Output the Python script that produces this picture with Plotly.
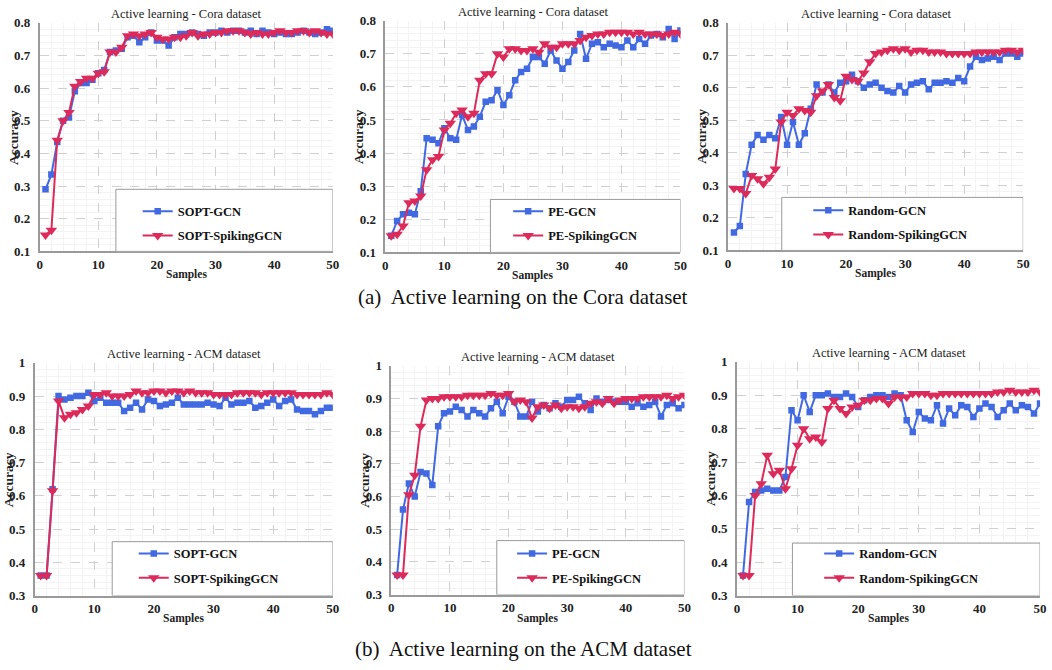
import plotly.graph_objects as go

samples = list(range(1, 51))

# ---- Cora dataset ----
sopt_gcn_cora = [0.29, 0.335, 0.435, 0.50, 0.51, 0.59, 0.615, 0.615, 0.625, 0.645,
                 0.655, 0.71, 0.715, 0.72, 0.755, 0.76, 0.74, 0.755, 0.77, 0.745,
                 0.745, 0.73, 0.755, 0.765, 0.765, 0.77, 0.765, 0.76, 0.77, 0.77,
                 0.775, 0.77, 0.775, 0.775, 0.77, 0.775, 0.765, 0.775, 0.77, 0.765,
                 0.77, 0.765, 0.765, 0.77, 0.775, 0.77, 0.765, 0.77, 0.78, 0.775]
sopt_spk_cora = [0.15, 0.165, 0.44, 0.50, 0.525, 0.605, 0.62, 0.63, 0.63, 0.645,
                 0.65, 0.71, 0.71, 0.725, 0.76, 0.765, 0.76, 0.765, 0.77, 0.755,
                 0.75, 0.75, 0.755, 0.755, 0.76, 0.77, 0.76, 0.765, 0.765, 0.77,
                 0.77, 0.775, 0.775, 0.775, 0.77, 0.765, 0.77, 0.765, 0.765, 0.77,
                 0.775, 0.77, 0.77, 0.775, 0.775, 0.77, 0.775, 0.77, 0.765, 0.765]
pe_gcn_cora = [0.15, 0.195, 0.215, 0.22, 0.215, 0.285, 0.445, 0.44, 0.43, 0.475,
               0.445, 0.44, 0.515, 0.47, 0.48, 0.51, 0.555, 0.56, 0.59, 0.545,
               0.575, 0.62, 0.645, 0.655, 0.69, 0.69, 0.67, 0.71, 0.68, 0.655,
               0.675, 0.71, 0.76, 0.685, 0.73, 0.735, 0.72, 0.73, 0.725, 0.72,
               0.74, 0.72, 0.745, 0.73, 0.755, 0.76, 0.75, 0.775, 0.745, 0.77]
pe_spk_cora = [0.15, 0.155, 0.18, 0.25, 0.255, 0.27, 0.35, 0.38, 0.39, 0.47,
               0.49, 0.52, 0.53, 0.51, 0.52, 0.62, 0.64, 0.64, 0.70, 0.69,
               0.715, 0.715, 0.71, 0.71, 0.715, 0.705, 0.73, 0.72, 0.72, 0.73,
               0.73, 0.73, 0.74, 0.75, 0.755, 0.76, 0.76, 0.765, 0.765, 0.765,
               0.765, 0.76, 0.765, 0.76, 0.76, 0.76, 0.755, 0.76, 0.765, 0.76]
rnd_gcn_cora = [0.155, 0.175, 0.335, 0.425, 0.455, 0.44, 0.455, 0.445, 0.51, 0.425,
                0.495, 0.425, 0.46, 0.535, 0.61, 0.585, 0.61, 0.585, 0.615, 0.62,
                0.64, 0.62, 0.60, 0.61, 0.615, 0.60, 0.59, 0.585, 0.605, 0.585,
                0.61, 0.615, 0.62, 0.595, 0.615, 0.615, 0.62, 0.615, 0.63, 0.62,
                0.665, 0.695, 0.685, 0.69, 0.695, 0.685, 0.705, 0.705, 0.695, 0.705]
rnd_spk_cora = [0.29, 0.29, 0.275, 0.33, 0.32, 0.305, 0.325, 0.35, 0.495, 0.525,
                0.515, 0.535, 0.53, 0.525, 0.575, 0.59, 0.61, 0.57, 0.56, 0.635,
                0.625, 0.62, 0.645, 0.68, 0.705, 0.71, 0.715, 0.72, 0.715, 0.72,
                0.71, 0.715, 0.715, 0.71, 0.71, 0.71, 0.705, 0.705, 0.705, 0.705,
                0.705, 0.71, 0.71, 0.71, 0.71, 0.71, 0.715, 0.715, 0.71, 0.715]

# ---- ACM dataset ----
sopt_gcn_acm = [0.36, 0.36, 0.62, 0.90, 0.89, 0.895, 0.90, 0.90, 0.91, 0.885,
                0.895, 0.88, 0.88, 0.88, 0.855, 0.865, 0.88, 0.86, 0.89, 0.885,
                0.87, 0.875, 0.88, 0.895, 0.875, 0.875, 0.875, 0.875, 0.88, 0.875,
                0.87, 0.895, 0.875, 0.88, 0.88, 0.885, 0.865, 0.87, 0.88, 0.89,
                0.87, 0.885, 0.89, 0.86, 0.855, 0.855, 0.845, 0.855, 0.865, 0.865]
sopt_spk_acm = [0.36, 0.36, 0.615, 0.885, 0.835, 0.845, 0.85, 0.86, 0.87, 0.905,
                0.905, 0.91, 0.90, 0.90, 0.90, 0.905, 0.915, 0.91, 0.91, 0.915,
                0.915, 0.91, 0.915, 0.915, 0.91, 0.915, 0.91, 0.91, 0.91, 0.905,
                0.905, 0.905, 0.905, 0.91, 0.91, 0.91, 0.91, 0.905, 0.91, 0.91,
                0.91, 0.91, 0.91, 0.905, 0.905, 0.905, 0.905, 0.905, 0.91, 0.905]
pe_gcn_acm = [0.36, 0.56, 0.64, 0.60, 0.675, 0.67, 0.635, 0.815, 0.855, 0.86,
              0.875, 0.865, 0.845, 0.865, 0.855, 0.845, 0.87, 0.89, 0.855, 0.905,
              0.89, 0.845, 0.845, 0.89, 0.86, 0.88, 0.87, 0.885, 0.875, 0.895,
              0.895, 0.905, 0.885, 0.865, 0.90, 0.89, 0.895, 0.89, 0.89, 0.89,
              0.875, 0.885, 0.875, 0.88, 0.89, 0.845, 0.88, 0.885, 0.87, 0.88]
pe_spk_acm = [0.36, 0.36, 0.605, 0.665, 0.815, 0.895, 0.90, 0.90, 0.905, 0.905,
              0.905, 0.905, 0.91, 0.91, 0.91, 0.91, 0.915, 0.91, 0.91, 0.915,
              0.89, 0.895, 0.89, 0.84, 0.875, 0.88, 0.87, 0.88, 0.87, 0.875,
              0.875, 0.87, 0.875, 0.885, 0.89, 0.885, 0.90, 0.885, 0.895, 0.90,
              0.90, 0.90, 0.905, 0.905, 0.905, 0.905, 0.91, 0.90, 0.905, 0.91]
rnd_gcn_acm = [0.36, 0.58, 0.61, 0.615, 0.62, 0.615, 0.615, 0.655, 0.855, 0.825,
               0.90, 0.85, 0.90, 0.90, 0.905, 0.895, 0.895, 0.905, 0.895, 0.865,
               0.885, 0.895, 0.90, 0.90, 0.895, 0.905, 0.90, 0.825, 0.79, 0.85,
               0.83, 0.825, 0.87, 0.815, 0.86, 0.84, 0.87, 0.865, 0.835, 0.86,
               0.875, 0.865, 0.835, 0.855, 0.875, 0.855, 0.87, 0.865, 0.845, 0.875]
rnd_spk_acm = [0.36, 0.36, 0.60, 0.635, 0.72, 0.665, 0.675, 0.62, 0.68, 0.75,
               0.80, 0.77, 0.775, 0.76, 0.86, 0.885, 0.86, 0.845, 0.865, 0.87,
               0.885, 0.885, 0.89, 0.89, 0.875, 0.895, 0.895, 0.895, 0.905, 0.905,
               0.905, 0.90, 0.90, 0.905, 0.905, 0.905, 0.905, 0.905, 0.905, 0.905,
               0.905, 0.905, 0.91, 0.91, 0.915, 0.91, 0.91, 0.91, 0.915, 0.91]

titles = ["Active learning - Cora dataset"] * 3 + ["Active learning - ACM dataset"] * 3
methods = ["SOPT", "PE", "Random", "SOPT", "PE", "Random"]
gcn_series = [sopt_gcn_cora, pe_gcn_cora, rnd_gcn_cora, sopt_gcn_acm, pe_gcn_acm, rnd_gcn_acm]
spk_series = [sopt_spk_cora, pe_spk_cora, rnd_spk_cora, sopt_spk_acm, pe_spk_acm, rnd_spk_acm]
captions = ["(a)&nbsp; Active learning on the Cora dataset",
            "(b)&nbsp; Active learning on the ACM dataset"]

W, H = 1052, 670
# plot areas in pixels: (left, right, top, bottom)
areas = [(37, 333, 16, 250), (386, 684, 14, 251), (732, 1030, 16, 249),
         (32, 333, 364, 602), (392, 688, 367, 601), (741, 1047, 363, 602)]
yranges = [(0.1, 0.8)] * 3 + [(0.3, 1.0)] * 3
# legend boxes in data coords (x0, y_top)
boxes = [(13, 0.29), (17.8, 0.26), (9.1, 0.263), (13, 0.462), (18, 0.465), (9.15, 0.457)]
# legend text start px, first item center px
leg_pos = [(177, 212), (551, 212), (854, 211), (173, 562), (555, 562), (865, 562)]

BLUE = "#4169E1"
RED = "#DC2A5A"
SERIF = "Liberation Serif"

fig = go.Figure()
shapes = []
annotations = []
layout = dict(width=W, height=H, margin=dict(l=0, r=0, t=0, b=0),
              paper_bgcolor="white", plot_bgcolor="white",
              font=dict(family=SERIF, color="#222"))

for i in range(6):
    k = "" if i == 0 else str(i + 1)
    xa, ya = "x" + k, "y" + k
    lg = "legend" + k
    l, r, t, b = areas[i]
    y0, y1 = yranges[i]
    fig.add_trace(go.Scatter(x=samples, y=gcn_series[i], mode="lines+markers",
                             name=methods[i] + "-GCN", xaxis=xa, yaxis=ya, legend=lg,
                             legendgroup="g" + str(i) + "a",
                             line=dict(color=BLUE, width=2),
                             marker=dict(symbol="square", size=6.5, color=BLUE)))
    fig.add_trace(go.Scatter(x=samples, y=spk_series[i], mode="lines+markers",
                             name=methods[i] + "-SpikingGCN", xaxis=xa, yaxis=ya, legend=lg,
                             legendgroup="g" + str(i) + "b",
                             line=dict(color=RED, width=2),
                             marker=dict(symbol="triangle-down", size=10, color=RED)))
    layout["xaxis" + k] = dict(domain=[l / W, r / W], anchor=ya, range=[0, 50],
                               dtick=10, tick0=0, showgrid=True, gridcolor="#d0d0d0",
                               griddash="dash", gridwidth=1, zeroline=False,
                               showline=True, linecolor="#9a9a9a", linewidth=1.5,
                               ticks="",
                               tickfont=dict(family=SERIF, size=13, weight="bold", color="#222"),
                               minor=dict(dtick=2, showgrid=True, gridcolor="#f3f3f3",
                                          griddash="solid", gridwidth=1))
    layout["yaxis" + k] = dict(domain=[1 - b / H, 1 - t / H], anchor=xa, range=[y0, y1],
                               dtick=0.1, tick0=0, showgrid=True, gridcolor="#d0d0d0",
                               griddash="dash", gridwidth=1, zeroline=False,
                               showline=True, linecolor="#9a9a9a", linewidth=1.5,
                               ticks="outside", ticklen=5, tickcolor="rgba(0,0,0,0)",
                               tickfont=dict(family=SERIF, size=13, weight="bold", color="#222"),
                               minor=dict(dtick=0.02, showgrid=True, gridcolor="#f3f3f3",
                                          griddash="solid", gridwidth=1))
    # legend box
    bx0, by1 = boxes[i]
    shapes.append(dict(type="rect", xref=xa, yref=ya, x0=bx0, x1=50, y0=y0, y1=by1,
                       line=dict(color="#9a9a9a", width=1), fillcolor="white", layer="above"))
    tx, ty = leg_pos[i]
    layout[lg] = dict(x=(tx - 41) / W, y=1 - (ty - 18) / H, xanchor="left", yanchor="top",
                      xref="paper", yref="paper", bgcolor="rgba(0,0,0,0)", borderwidth=0,
                      tracegroupgap=5,
                      font=dict(family=SERIF, size=12.5, weight="bold", color="#111"))
    # subplot title
    annotations.append(dict(text=titles[i], x=(l + r) / 2 / W, y=1 - (t - 9) / H,
                            xref="paper", yref="paper", showarrow=False,
                            font=dict(family=SERIF, size=12.5, color="#222"),
                            xanchor="center", yanchor="middle"))
    # axis titles
    annotations.append(dict(text="<b>Accuracy</b>", x=(l - 27) / W, y=1 - (t + b) / 2 / H,
                            xref="paper", yref="paper", showarrow=False, textangle=-90,
                            font=dict(family=SERIF, size=13.5, color="#222"),
                            xanchor="center", yanchor="middle"))
    annotations.append(dict(text="<b>Samples</b>", x=(l + r) / 2 / W, y=1 - (b + 24) / H,
                            xref="paper", yref="paper", showarrow=False,
                            font=dict(family=SERIF, size=11.5, color="#222"),
                            xanchor="center", yanchor="middle"))

annotations.append(dict(text=captions[0], x=525 / W, y=1 - 297 / H, xref="paper", yref="paper",
                        showarrow=False, font=dict(family=SERIF, size=21, color="#111"),
                        xanchor="center", yanchor="middle"))
annotations.append(dict(text=captions[1], x=525 / W, y=1 - 657 / H, xref="paper", yref="paper",
                        showarrow=False, font=dict(family=SERIF, size=21, color="#111"),
                        xanchor="center", yanchor="middle"))

layout["shapes"] = shapes
layout["annotations"] = annotations
layout["showlegend"] = True
fig.update_layout(**layout)
fig.write_html("out.html")
